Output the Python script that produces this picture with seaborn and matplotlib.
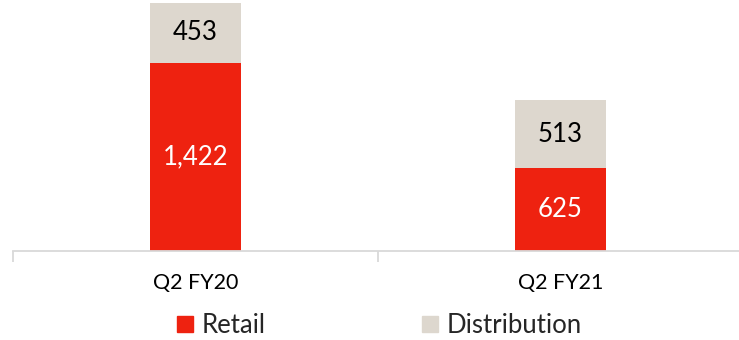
import pandas as pd
import numpy as np
import matplotlib
matplotlib.use("Agg")
import matplotlib.pyplot as plt
from matplotlib.patches import Patch
import seaborn as sns

# data
quarters = ['Q2 FY20', 'Q2 FY21']
retail = [1422, 625]
distribution = [453, 513]

df = pd.DataFrame({'quarter': quarters, 'retail': retail, 'distribution': distribution})
df['total'] = df['retail'] + df['distribution']

red = '#EE2210'
beige = '#DDD7CE'

sns.set_style("white")
plt.rcParams['font.family'] = ['Lato', 'DejaVu Sans']

fig = plt.figure(figsize=(7.39, 3.40), dpi=100)
ax = fig.add_axes([13/739, 89/340, 730/739, 251/340])

sns.barplot(data=df, x='quarter', y='total', color=beige, width=0.25, saturation=1,
            linewidth=0, ax=ax)
sns.barplot(data=df, x='quarter', y='retail', color=red, width=0.25, saturation=1,
            linewidth=0, ax=ax)

ax.set_xlim(-0.5, 1.5)
ax.set_ylim(0, 1875 * 251 / 248)

# value labels
for i, row in df.iterrows():
    ax.text(i, row['retail'] / 2, f"{row['retail']:,}", ha='center', va='center',
            color='white', fontsize=18.5)
    ax.text(i, row['retail'] + row['distribution'] / 2, f"{row['distribution']:,}",
            ha='center', va='center', color='black', fontsize=18.5)

for s in ['top', 'right', 'left']:
    ax.spines[s].set_visible(False)
ax.spines['bottom'].set_color('#D9D9D9')
ax.spines['bottom'].set_linewidth(1.3)
ax.set_yticks([])
ax.set_xlabel('')
ax.set_ylabel('')
ax.tick_params(axis='x', which='major', length=0, labelsize=15.5, labelcolor='black', pad=16)
ax.set_xticks([-0.5, 0.5, 1.5], minor=True)
ax.tick_params(axis='x', which='minor', bottom=True, length=8, width=1.3,
               color='#D9D9D9', direction='out')

handles = [Patch(color=red, label='Retail'), Patch(color=beige, label='Distribution')]
fig.legend(handles=handles, loc='lower left', bbox_to_anchor=(172/739, -0.01), ncol=2,
           frameon=False, fontsize=18.5, handlelength=0.6, handleheight=0.6,
           handletextpad=0.35, columnspacing=6.1, borderpad=0.2, borderaxespad=0)

fig.savefig('out.png', dpi=100)
